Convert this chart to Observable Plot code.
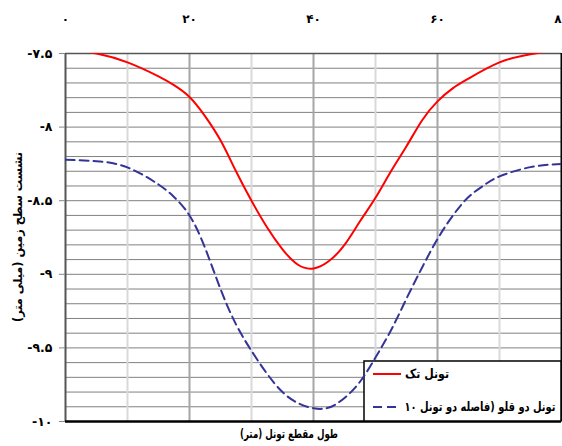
<!DOCTYPE html>
<html><head><meta charset="utf-8">
<script src="https://cdn.jsdelivr.net/npm/d3@7"></script>
<script src="https://cdn.jsdelivr.net/npm/@observablehq/plot@0.6"></script>
<style>
html,body{margin:0;padding:0;background:#fff}
#chart svg{display:block;overflow:visible}
</style>
</head><body><div id="chart"></div>
<script>
// ---- data ----
const singleX = [0, 5, 10, 15, 17.5, 20, 22.5, 25, 27.5, 30, 32.5, 35, 37.5, 40, 42.5, 45, 47.5, 50, 52.5, 55, 57.5, 60, 62.5, 65, 70, 75, 80];
const singleY = [-7.47, -7.50, -7.56, -7.655, -7.715, -7.795, -7.925, -8.09, -8.30, -8.50, -8.68, -8.83, -8.935, -8.96, -8.91, -8.80, -8.64, -8.48, -8.30, -8.13, -7.955, -7.825, -7.735, -7.67, -7.56, -7.505, -7.47];
const twinX = [0, 5, 10, 15, 17.5, 20, 22.5, 25, 27.5, 30, 32.5, 35, 37.5, 40, 42.5, 45, 47.5, 50, 52.5, 55, 57.5, 60, 62.5, 65, 67.5, 70, 75, 80];
const twinY = [-8.222, -8.232, -8.274, -8.39, -8.475, -8.60, -8.82, -9.10, -9.34, -9.52, -9.675, -9.80, -9.875, -9.91, -9.905, -9.84, -9.73, -9.565, -9.38, -9.165, -8.955, -8.76, -8.60, -8.475, -8.395, -8.335, -8.272, -8.25];
const seriesNames = ["تونل تک", "تونل دو قلو (فاصله دو تونل ۱۰"];
const seriesColors = ["#ff0000", "#333399"];
const xTicks = [0, 20, 40, 60, 80];
const xTickLabels = ["۰", "۲۰", "۴۰", "۶۰", "۸۰"];
const yTicks = [-7.5, -8, -8.5, -9, -9.5, -10];
const yTickLabels = ["-۷.۵", "-۸", "-۸.۵", "-۹", "-۹.۵", "-۱۰"];
const xTitle = "طول مقطع تونل (متر)";
const yTitle = "نشست سطح زمین (میلی متر)";

const single = singleX.map((x, i) => ({x, y: singleY[i]}));
const twin = twinX.map((x, i) => ({x, y: twinY[i]}));

const xMinorGrid = [10, 30, 50, 70];
const xMajorGrid = [20, 40, 60];
const yGrid = d3.range(1, 25).map(k => -7.5 - k * 0.1);

function rtlText(g, s, x, y, size, len) {
  const t = g.append("text").attr("x", x).attr("y", y).attr("dy", "0.35em")
    .attr("direction", "rtl").attr("unicode-bidi", "embed")
    .attr("text-anchor", "middle").attr("font-size", size).attr("font-weight", "bold")
    .attr("fill", "#000").text(s);
  if (len) t.attr("textLength", len).attr("lengthAdjust", "spacingAndGlyphs");
  return t;
}

function legendMark(index, scales, values, dims) {
  const g = d3.create("svg:g");
  const right = dims.width - dims.marginRight;
  const bottom = dims.height - dims.marginBottom;
  const bw = 197, bh = 60;
  const x0 = right - bw, y0 = bottom - bh;
  g.append("rect").attr("x", x0).attr("y", y0).attr("width", bw).attr("height", bh)
    .attr("fill", "#fff").attr("stroke", "#000").attr("stroke-width", 1.5);
  const rows = [13, 46];
  const centers = [63, 116];
  const lens = [44, 151];
  seriesNames.forEach((name, i) => {
    const y = y0 + rows[i];
    g.append("line").attr("x1", x0 + 9).attr("x2", x0 + 37).attr("y1", y).attr("y2", y)
      .attr("stroke", seriesColors[i]).attr("stroke-width", 2)
      .attr("stroke-dasharray", i === 1 ? "9,5" : null);
    rtlText(g, name, x0 + centers[i], y, 12.5, lens[i]);
  });
  return g.node();
}

function titlesMark(index, scales, values, dims) {
  const g = d3.create("svg:g");
  rtlText(g, xTitle, 289, dims.height - 12, 12, 98);
  const cy = 237;
  rtlText(g, yTitle, 0, 0, 12, 170).attr("transform", `translate(18,${cy}) rotate(-90)`);
  return g.node();
}

const chart = Plot.plot({
  width: 562,
  height: 446,
  marginTop: 53,
  marginBottom: 25,
  marginLeft: 65,
  marginRight: 1,
  style: {fontFamily: "'DejaVu Sans', sans-serif", fontSize: "12px", background: "#fff", color: "#000"},
  x: {domain: [0, 80]},
  y: {domain: [-10, -7.5]},
  marks: [
    Plot.gridY({ticks: yGrid, stroke: "#808080", strokeOpacity: 1, strokeWidth: 1}),
    Plot.gridX({ticks: xMinorGrid, stroke: "#d9d9d9", strokeOpacity: 1, strokeWidth: 2}),
    Plot.gridX({ticks: xMajorGrid, stroke: "#a6a6a6", strokeOpacity: 1, strokeWidth: 2}),
    Plot.ruleY([-7.5], {stroke: "#555", strokeWidth: 1.5}),
    Plot.ruleX([0], {stroke: "#555", strokeWidth: 2}),
    Plot.ruleY([-10], {stroke: "#000", strokeWidth: 2.5}),
    Plot.ruleX([80], {stroke: "#000", strokeWidth: 2}),
    Plot.axisX({anchor: "top", ticks: xTicks, tickFormat: d => xTickLabels[xTicks.indexOf(d)], tickSize: 0, tickPadding: 31, fontWeight: "bold", fontSize: 12, label: null}),
    Plot.axisY({ticks: yTicks, tickFormat: d => yTickLabels[yTicks.indexOf(d)], tickSize: 6, tickPadding: 7, stroke: "#888", fill: "#000", fontWeight: "bold", fontSize: 12.5, label: null}),
    legendMark,
    Plot.line(single, {x: "x", y: "y", stroke: seriesColors[0], strokeWidth: 2, curve: "natural", clip: true}),
    Plot.line(twin, {x: "x", y: "y", stroke: seriesColors[1], strokeWidth: 2, strokeDasharray: "9,5", curve: "natural", clip: true}),
    titlesMark
  ]
});
document.getElementById("chart").appendChild(chart);
</script>
</body></html>
